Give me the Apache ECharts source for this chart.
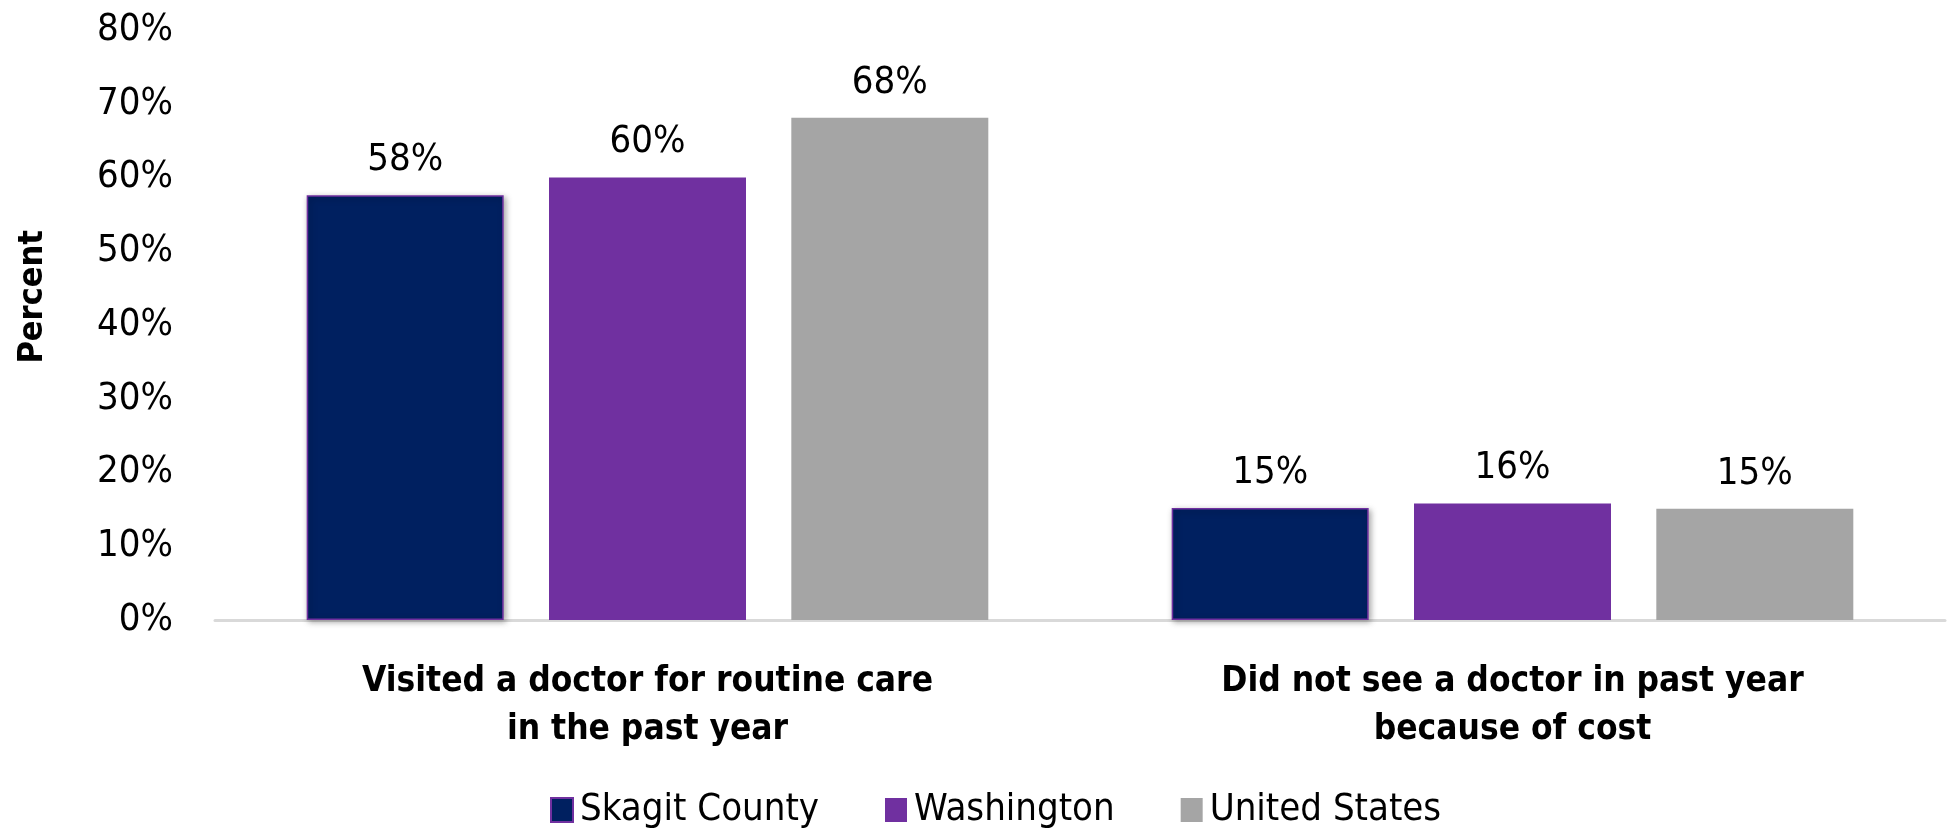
<!DOCTYPE html>
<html>
<head>
<meta charset="utf-8">
<script src="https://cdn.jsdelivr.net/npm/echarts@6/dist/echarts.min.js"></script>
<style>
html,body{margin:0;padding:0;background:#fff;}
#chart{width:1949px;height:838px;}
</style>
</head>
<body>
<div id="chart"></div>
<script>
const categories = ['Visited a doctor for routine care\nin the past year', 'Did not see a doctor in past year\nbecause of cost'];
const seriesNames = ['Skagit County', 'Washington', 'United States'];
const skagit = [57.6, 15.2];
const washington = [60.0, 15.8];
const unitedStates = [68.1, 15.1];
const labelText = [['58%', '15%'], ['60%', '16%'], ['68%', '15%']];
const yTicks = { min: 0, max: 80, interval: 10 };

const FONT = '"Liberation Sans Narrow", "DejaVu Sans Condensed", "Noto Sans", sans-serif';
const colors = ['#002060', '#7030A0', '#A5A5A5'];
const values = [skagit, washington, unitedStates];

const chart = echarts.init(document.getElementById('chart'), null, { renderer: 'canvas' });
chart.setOption({
  animation: false,
  backgroundColor: '#fff',
  grid: { left: 215, right: 4, top: 30, bottom: 218 },
  legend: {
    bottom: 4, left: 545,
    itemWidth: 22, itemHeight: 24, itemGap: 66,
    textStyle: { fontFamily: FONT, fontSize: 38, color: '#000', padding: [0, 0, 0, 2] },
    data: seriesNames.map((n, i) => ({ name: n, icon: 'rect', itemStyle: i === 0 ? { borderColor: '#7030A0', borderWidth: 2 } : {} }))
  },
  graphic: [{
    type: 'text', left: 16, top: 230, rotation: Math.PI / 2,
    style: { text: 'Percent', font: 'bold 34px ' + FONT, fill: '#000' }
  }],
  xAxis: {
    type: 'category', data: categories,
    axisTick: { show: false },
    axisLine: { lineStyle: { color: '#d9d9d9', width: 3 } },
    axisLabel: { color: '#000', fontFamily: FONT, fontSize: 35, fontWeight: 'bold', lineHeight: 48, margin: 38, interval: 0 }
  },
  yAxis: {
    type: 'value', min: yTicks.min, max: yTicks.max, interval: yTicks.interval,
    splitLine: { show: false },
    axisLine: { show: false }, axisTick: { show: false },
    axisLabel: { color: '#000', fontFamily: FONT, fontSize: 38, margin: 42, formatter: '{value}%' }
  },
  series: seriesNames.map((name, i) => ({
    name, type: 'bar',
    data: values[i],
    barWidth: 197,
    barGap: '23%',
    itemStyle: Object.assign({ color: colors[i] },
      i === 0 ? { borderColor: '#7030A0', borderWidth: 1.5, shadowBlur: 6, shadowColor: 'rgba(0,0,0,0.35)', shadowOffsetX: 2, shadowOffsetY: 2 } : {}),
    label: {
      show: true, position: 'top', distance: 16,
      fontFamily: FONT, fontSize: 38, color: '#000',
      formatter: p => labelText[i][p.dataIndex]
    }
  }))
});
</script>
</body>
</html>
